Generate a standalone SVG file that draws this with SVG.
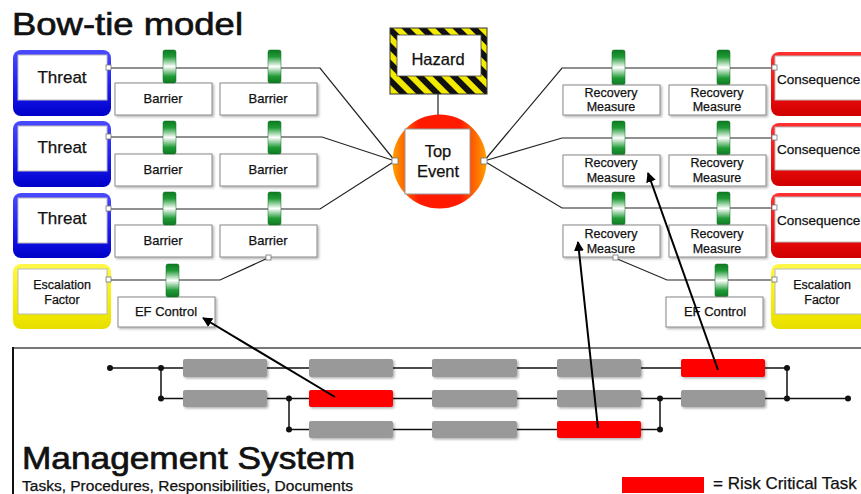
<svg xmlns="http://www.w3.org/2000/svg" width="861" height="494" viewBox="0 0 861 494">
<defs>
<linearGradient id="gBlue" x1="0" y1="0" x2="0" y2="1">
<stop offset="0" stop-color="#4a4aff"/><stop offset="0.6" stop-color="#1a1af0"/><stop offset="1" stop-color="#0000c8"/>
</linearGradient>
<linearGradient id="gRed" x1="0" y1="0" x2="0" y2="1">
<stop offset="0" stop-color="#ff3030"/><stop offset="0.6" stop-color="#f01010"/><stop offset="1" stop-color="#d00000"/>
</linearGradient>
<linearGradient id="gYel" x1="0" y1="0" x2="0" y2="1">
<stop offset="0" stop-color="#fff84a"/><stop offset="0.6" stop-color="#f5ee00"/><stop offset="1" stop-color="#e8de00"/>
</linearGradient>
<linearGradient id="gTab" x1="0" y1="0" x2="0" y2="1">
<stop offset="0" stop-color="#0e7a22"/><stop offset="0.2" stop-color="#1f9a35"/><stop offset="0.5" stop-color="#ffffff"/><stop offset="0.8" stop-color="#1f9a35"/><stop offset="1" stop-color="#0e7a22"/>
</linearGradient>
<linearGradient id="gTop" x1="0" y1="0" x2="1" y2="0">
<stop offset="0" stop-color="#ffa000"/><stop offset="0.14" stop-color="#ff6000"/><stop offset="0.28" stop-color="#ff1a00"/><stop offset="0.72" stop-color="#ff1a00"/><stop offset="0.86" stop-color="#ff6000"/><stop offset="1" stop-color="#ffa000"/>
</linearGradient>
<pattern id="stripes" width="12" height="12" patternUnits="userSpaceOnUse" patternTransform="rotate(-45)">
<rect width="12" height="12" fill="#f2ea00"/><rect width="6" height="12" fill="#111"/>
</pattern>
<filter id="sh" x="-10%" y="-10%" width="130%" height="140%">
<feDropShadow dx="1.5" dy="1.5" stdDeviation="1" flood-color="#000" flood-opacity="0.3"/>
</filter>
<marker id="ah" viewBox="0 0 10 10" refX="9" refY="5" markerWidth="5" markerHeight="5" orient="auto" markerUnits="strokeWidth">
<path d="M0,0 L10,5 L0,10 z" fill="#000"/>
</marker>
<style>
text{font-family:"Liberation Sans",Arial,sans-serif;fill:#111;stroke:#111;stroke-width:0.25}
.head{stroke-width:0.7}
.box{fill:#fff;stroke:#888;stroke-width:1;filter:url(#sh)}
.inner{fill:#fff;stroke:#bbb;stroke-width:1}
.tab{fill:url(#gTab);stroke:#0b6a1c;stroke-width:0.5}
.lbl{font-size:13px;text-anchor:middle}
.sm{font-size:12.5px;text-anchor:middle}
.big{font-size:17px;text-anchor:middle}
.con{fill:none;stroke:#222;stroke-width:1.2}
.port{fill:#fff;stroke:#777;stroke-width:0.8}
.task{fill:#999;filter:url(#sh)}
.crit{fill:#ff0000;filter:url(#sh)}
.wf{fill:none;stroke:#111;stroke-width:1.5}
.dot{fill:#111}
.arr{fill:none;stroke:#000;stroke-width:2;marker-end:url(#ah)}
</style>
</defs>

<text class="head" x="12" y="35" font-size="32" textLength="231" lengthAdjust="spacingAndGlyphs">Bow-tie model</text>

<g id="connectors">
<path class="con" d="M110,68 H320 L395,161"/>
<path class="con" d="M110,137 H322 L395,161"/>
<path class="con" d="M110,209 H320 L395,161"/>
<path class="con" d="M110,280 H220 L268,258"/>
<path class="con" d="M484,161 L562,68 H773"/>
<path class="con" d="M484,161 L562,138 H773"/>
<path class="con" d="M484,161 L562,208 H773"/>
<path class="con" d="M773,280 H667 L615,258"/>
<path class="con" d="M438,94 V115"/>
</g>

<g id="threat1">
<rect x="13" y="50" width="98" height="66" rx="8" fill="url(#gBlue)"/>
<rect class="inner" x="18" y="55" width="89" height="45"/>
<text class="big" x="62" y="83">Threat</text>
</g>
<g id="threat2">
<rect x="13" y="121" width="98" height="66" rx="8" fill="url(#gBlue)"/>
<rect class="inner" x="18" y="126" width="89" height="45"/>
<text class="big" x="62" y="153">Threat</text>
</g>
<g id="threat3">
<rect x="13" y="193" width="98" height="65" rx="8" fill="url(#gBlue)"/>
<rect class="inner" x="18" y="198" width="89" height="45"/>
<text class="big" x="62" y="224">Threat</text>
</g>
<g id="escalation-left">
<rect x="13" y="264" width="98" height="65" rx="8" fill="url(#gYel)"/>
<rect class="inner" x="18" y="269" width="89" height="45"/>
<text class="sm" x="62" y="289">Escalation</text>
<text class="sm" x="62" y="304">Factor</text>
</g>

<g id="barrier-1a"><rect class="box" x="115" y="83" width="97" height="32"/><text class="lbl" x="163" y="103">Barrier</text></g>
<g id="barrier-1b"><rect class="box" x="220" y="83" width="97" height="32"/><text class="lbl" x="268" y="103">Barrier</text></g>
<g id="barrier-2a"><rect class="box" x="115" y="154" width="97" height="32"/><text class="lbl" x="163" y="174">Barrier</text></g>
<g id="barrier-2b"><rect class="box" x="220" y="154" width="97" height="32"/><text class="lbl" x="268" y="174">Barrier</text></g>
<g id="barrier-3a"><rect class="box" x="115" y="225" width="97" height="32"/><text class="lbl" x="163" y="245">Barrier</text></g>
<g id="barrier-3b"><rect class="box" x="220" y="225" width="97" height="32"/><text class="lbl" x="268" y="245">Barrier</text></g>
<g id="ef-control-left"><rect class="box" x="118" y="297" width="97" height="30"/><text class="lbl" x="166" y="316">EF Control</text></g>

<g id="tabs">
<rect class="tab" x="163" y="50" width="13" height="33" rx="2"/>
<rect class="tab" x="268" y="50" width="13" height="33" rx="2"/>
<rect class="tab" x="163" y="121" width="13" height="33" rx="2"/>
<rect class="tab" x="268" y="121" width="13" height="33" rx="2"/>
<rect class="tab" x="163" y="192" width="13" height="33" rx="2"/>
<rect class="tab" x="268" y="192" width="13" height="33" rx="2"/>
<rect class="tab" x="166" y="264" width="13" height="33" rx="2"/>
<rect class="tab" x="612" y="50" width="13" height="35" rx="2"/>
<rect class="tab" x="717" y="50" width="13" height="35" rx="2"/>
<rect class="tab" x="612" y="121" width="13" height="34" rx="2"/>
<rect class="tab" x="717" y="121" width="13" height="34" rx="2"/>
<rect class="tab" x="612" y="192" width="13" height="33" rx="2"/>
<rect class="tab" x="717" y="192" width="13" height="33" rx="2"/>
<rect class="tab" x="715" y="264" width="13" height="33" rx="2"/>
</g>

<g id="hazard">
<rect x="390" y="28" width="97" height="66" fill="url(#stripes)" stroke="#333" stroke-width="1"/>
<rect x="397" y="35" width="84" height="41" fill="#fff" stroke="#444" stroke-width="0.8"/>
<text x="438" y="65" font-size="16.5" text-anchor="middle">Hazard</text>
</g>

<g id="top-event">
<circle cx="439.5" cy="161.5" r="47" fill="url(#gTop)"/>
<rect x="405" y="129" width="65" height="65" fill="#fff" stroke="#999" stroke-width="1"/>
<text x="438" y="157" font-size="16.5" text-anchor="middle">Top</text>
<text x="438" y="177" font-size="16.5" text-anchor="middle">Event</text>
</g>

<g id="recovery-1a"><rect class="box" x="563" y="85" width="97" height="30"/><text class="sm" x="611" y="97">Recovery</text><text class="sm" x="611" y="111">Measure</text></g>
<g id="recovery-1b"><rect class="box" x="669" y="85" width="97" height="30"/><text class="sm" x="717" y="97">Recovery</text><text class="sm" x="717" y="111">Measure</text></g>
<g id="recovery-2a"><rect class="box" x="563" y="155" width="97" height="31"/><text class="sm" x="611" y="167">Recovery</text><text class="sm" x="611" y="182">Measure</text></g>
<g id="recovery-2b"><rect class="box" x="669" y="155" width="97" height="31"/><text class="sm" x="717" y="167">Recovery</text><text class="sm" x="717" y="182">Measure</text></g>
<g id="recovery-3a"><rect class="box" x="563" y="225" width="97" height="32"/><text class="sm" x="611" y="238">Recovery</text><text class="sm" x="611" y="253">Measure</text></g>
<g id="recovery-3b"><rect class="box" x="669" y="225" width="97" height="32"/><text class="sm" x="717" y="238">Recovery</text><text class="sm" x="717" y="253">Measure</text></g>
<g id="ef-control-right"><rect class="box" x="666" y="297" width="97" height="30"/><text class="lbl" x="715" y="316">EF Control</text></g>

<g id="consequence1">
<rect x="771" y="52" width="110" height="64" rx="8" fill="url(#gRed)"/>
<rect class="inner" x="775" y="56" width="100" height="44"/>
<text x="777" y="84" font-size="13.5">Consequence</text>
</g>
<g id="consequence2">
<rect x="771" y="123" width="110" height="63" rx="8" fill="url(#gRed)"/>
<rect class="inner" x="775" y="127" width="100" height="43"/>
<text x="777" y="154" font-size="13.5">Consequence</text>
</g>
<g id="consequence3">
<rect x="771" y="193" width="110" height="65" rx="8" fill="url(#gRed)"/>
<rect class="inner" x="775" y="197" width="100" height="45"/>
<text x="777" y="225" font-size="13.5">Consequence</text>
</g>
<g id="escalation-right">
<rect x="771" y="264" width="110" height="65" rx="8" fill="url(#gYel)"/>
<rect class="inner" x="775" y="269" width="100" height="45"/>
<text class="sm" x="822" y="289">Escalation</text>
<text class="sm" x="822" y="304">Factor</text>
</g>

<g id="ports">
<rect class="port" x="106" y="65" width="5" height="5"/>
<rect class="port" x="106" y="134" width="5" height="5"/>
<rect class="port" x="106" y="206" width="5" height="5"/>
<rect class="port" x="106" y="277" width="5" height="5"/>
<rect class="port" x="266" y="255" width="5" height="5"/>
<rect class="port" x="392" y="158" width="6" height="6"/>
<rect class="port" x="481" y="158" width="6" height="6"/>
<rect class="port" x="772" y="65" width="5" height="5"/>
<rect class="port" x="772" y="135" width="5" height="5"/>
<rect class="port" x="772" y="205" width="5" height="5"/>
<rect class="port" x="772" y="277" width="5" height="5"/>
<rect class="port" x="613" y="255" width="5" height="5"/>
</g>

<g id="management-system">
<line x1="13" y1="348" x2="861" y2="348" stroke="#777" stroke-width="2"/>
<line x1="13" y1="347" x2="13" y2="494" stroke="#111" stroke-width="2"/>
<path class="wf" d="M110,368 H787 M161,398.5 H848 M289,429.5 H660 M161,368 V398.5 M289,398.5 V429.5 M660,398.5 V429.5 M787,368 V398.5"/>
<rect class="task" x="183" y="359" width="84" height="18" rx="2"/>
<rect class="task" x="309" y="359" width="84" height="18" rx="2"/>
<rect class="task" x="432" y="359" width="85" height="18" rx="2"/>
<rect class="task" x="557" y="359" width="84" height="18" rx="2"/>
<rect class="crit" x="681" y="359" width="84" height="18" rx="2"/>
<rect class="task" x="183" y="390" width="84" height="17" rx="2"/>
<rect class="crit" x="309" y="390" width="84" height="17" rx="2"/>
<rect class="task" x="432" y="390" width="85" height="17" rx="2"/>
<rect class="task" x="557" y="390" width="84" height="17" rx="2"/>
<rect class="task" x="681" y="390" width="84" height="17" rx="2"/>
<rect class="task" x="309" y="421" width="84" height="17" rx="2"/>
<rect class="task" x="432" y="421" width="85" height="17" rx="2"/>
<rect class="crit" x="557" y="421" width="84" height="17" rx="2"/>
<circle class="dot" cx="110" cy="368" r="3"/>
<circle class="dot" cx="161" cy="368" r="3"/>
<circle class="dot" cx="161" cy="398.5" r="3"/>
<circle class="dot" cx="289" cy="398.5" r="3"/>
<circle class="dot" cx="289" cy="429.5" r="3"/>
<circle class="dot" cx="660" cy="398.5" r="3"/>
<circle class="dot" cx="660" cy="429.5" r="3"/>
<circle class="dot" cx="787" cy="368" r="3"/>
<circle class="dot" cx="787" cy="398.5" r="3"/>
<circle class="dot" cx="848" cy="398.5" r="3"/>
<text class="head" x="22" y="469" font-size="32" textLength="333" lengthAdjust="spacingAndGlyphs">Management System</text>
<text x="22" y="491" font-size="14" textLength="331" lengthAdjust="spacingAndGlyphs">Tasks, Procedures, Responsibilities, Documents</text>
</g>

<g id="legend">
<rect x="622" y="477" width="82" height="16" fill="#ff0000"/>
<text x="713" y="489" font-size="17">= Risk Critical Task</text>
</g>

<g id="arrows">
<line class="arr" x1="335" y1="397" x2="203" y2="318"/>
<line class="arr" x1="598" y1="428" x2="578" y2="242"/>
<line class="arr" x1="718" y1="370" x2="648" y2="173"/>
</g>
</svg>
